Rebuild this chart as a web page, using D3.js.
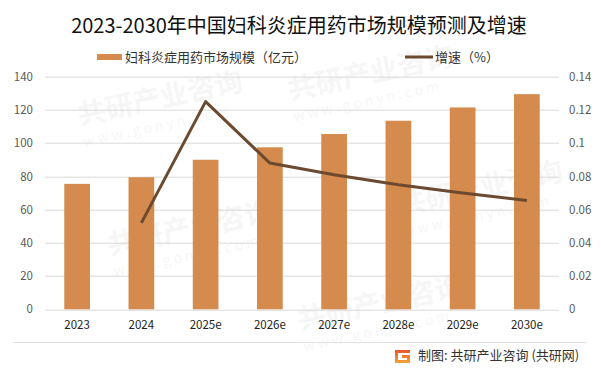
<!DOCTYPE html>
<html>
<head>
<meta charset="utf-8">
<script src="https://cdn.jsdelivr.net/npm/d3@7"></script>
<style>
  body { margin: 0; background: #fff; }
  svg { display: block; font-family: "Microsoft YaHei", "Noto Sans CJK SC", sans-serif; }
</style>
</head>
<body>
<svg id="chart" width="601" height="374"></svg>
<script>
// data
const years = ['2023', '2024', '2025e', '2026e', '2027e', '2028e', '2029e', '2030e']
const marketSize = [75.5, 79.5, 90, 97.5, 105.5, 113.5, 121.5, 129.5]
const growth = [null, 0.052, 0.125, 0.088, 0.081, 0.075, 0.070, 0.0655]
const leftTicks = [0, 20, 40, 60, 80, 100, 120, 140]
const rightTicks = [0, 0.02, 0.04, 0.06, 0.08, 0.1, 0.12, 0.14]

const svg = d3.select('#chart')
const margin = { left: 45, right: 42, top: 76.7, bottom: 64.7 }
const width = 601 - margin.left - margin.right
const height = 374 - margin.top - margin.bottom

// faint watermarks
const marks = [[80, 125], [290, 100], [400, 215], [110, 255], [300, 330]]
const wm = svg.append('g').attr('class', 'watermark')
marks.forEach(function (m) {
  const t = wm.append('g').attr('transform', 'translate(' + m[0] + ',' + m[1] + ') rotate(-12)')
  t.append('text').text('共研产业咨询')
    .attr('font-size', 28).attr('font-weight', 'bold').attr('fill', '#000').attr('opacity', 0.03)
  t.append('text').text('w w w . g o n y n . c o m').attr('y', 22)
    .attr('font-size', 14).attr('fill', '#000').attr('opacity', 0.03)
})

const g = svg.append('g').attr('transform', 'translate(' + margin.left + ',' + margin.top + ')')

const x = d3.scaleBand().domain(years).range([0, width]).paddingInner(0.6).paddingOuter(0.3)
const xc = d3.scalePoint().domain(years).range([0, width]).padding(0.5)
const yL = d3.scaleLinear().domain([0, 140]).range([height, 0])
const yR = d3.scaleLinear().domain([0, 0.14]).range([height, 0])

// gridlines
g.append('g')
  .selectAll('line')
  .data(leftTicks)
  .enter()
  .append('line')
  .attr('x1', 0)
  .attr('x2', width)
  .attr('y1', function (d) { return Math.round(yL(d)) + 0.5 })
  .attr('y2', function (d) { return Math.round(yL(d)) + 0.5 })
  .attr('stroke', '#d9d9d9')
  .attr('stroke-width', 1)

// axes
const axisL = g.append('g')
  .call(d3.axisLeft(yL).tickValues(leftTicks).tickSize(0).tickPadding(12))
const axisR = g.append('g').attr('transform', 'translate(' + width + ',0)')
  .call(d3.axisRight(yR).tickValues(rightTicks).tickSize(0).tickPadding(10)
    .tickFormat(function (d) { return d3.format('~g')(d) }))
const axisX = g.append('g').attr('transform', 'translate(0,' + height + ')')
  .call(d3.axisBottom(x).tickSize(0).tickPadding(12))
;[axisL, axisR, axisX].forEach(function (a) {
  a.select('.domain').remove()
  a.selectAll('text').attr('font-size', 11.5).attr('fill', '#595959')
    .attr('font-family', '"Microsoft YaHei", "Noto Sans CJK SC", sans-serif')
})
axisX.selectAll('text').attr('fill', '#222')

// bars
g.append('g')
  .selectAll('rect')
  .data(marketSize)
  .enter()
  .append('rect')
  .attr('x', function (d, i) { return x(years[i]) })
  .attr('width', x.bandwidth())
  .attr('y', function (d) { return yL(d) })
  .attr('height', function (d) { return height - yL(d) })
  .attr('fill', '#d48b4d')

// growth line
const line = d3.line()
  .defined(function (d) { return d != null })
  .x(function (d, i) { return xc(years[i]) })
  .y(function (d) { return yR(d) })
g.append('path')
  .datum(growth)
  .attr('d', line)
  .attr('fill', 'none')
  .attr('stroke', '#6b4a2f')
  .attr('stroke-width', 3)
  .attr('stroke-linejoin', 'round')

// title
svg.append('text')
  .attr('x', 299)
  .attr('y', 33)
  .attr('text-anchor', 'middle')
  .attr('font-size', 20)
  .attr('fill', '#111')
  .text('2023-2030年中国妇科炎症用药市场规模预测及增速')

// legend
svg.append('rect').attr('x', 97).attr('y', 54).attr('width', 25).attr('height', 6).attr('fill', '#d48b4d')
svg.append('text').attr('x', 125).attr('y', 62).attr('font-size', 13).attr('fill', '#333')
  .text('妇科炎症用药市场规模（亿元）')
svg.append('line').attr('x1', 405).attr('x2', 433).attr('y1', 57).attr('y2', 57)
  .attr('stroke', '#6b4a2f').attr('stroke-width', 3)
svg.append('text').attr('x', 435).attr('y', 62).attr('font-size', 13).attr('fill', '#333')
  .text('增速（%）')

// footer
svg.append('line').attr('x1', 13).attr('x2', 586).attr('y1', 342.5).attr('y2', 342.5)
  .attr('stroke', '#e3e3e3')
const grad = svg.append('defs').append('linearGradient').attr('id', 'logo')
  .attr('x1', 0).attr('y1', 0).attr('x2', 0).attr('y2', 1)
grad.append('stop').attr('offset', 0).attr('stop-color', '#f0522a')
grad.append('stop').attr('offset', 1).attr('stop-color', '#f7a33a')
svg.append('path')
  .attr('d', 'M395,350 h15 v3 h-12 v7 h9 v-2 h-5 v-3 h8 v8 h-15 z')
  .attr('fill', 'url(#logo)')
svg.append('text').attr('x', 418).attr('y', 360).attr('font-size', 13).attr('fill', '#333')
  .text('制图: 共研产业咨询 (共研网)')
</script>
</body>
</html>
